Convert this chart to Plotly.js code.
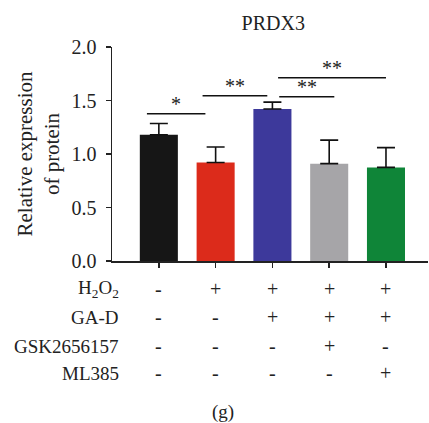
<!DOCTYPE html>
<html>
<head>
<meta charset="utf-8">
<script src="https://cdn.plot.ly/plotly-3.0.1.min.js"></script>
<style>html,body{margin:0;padding:0;background:#fff;}#chart{width:429px;height:423px;}</style>
</head>
<body>
<div id="chart"></div>
<script>
// Data
var groups = [0, 1, 2, 3, 4];
var means = [1.18, 0.92, 1.42, 0.91, 0.875];
var errors = [0.105, 0.145, 0.065, 0.22, 0.185];
var colors = ['#161616', '#dc2b1b', '#3d399b', '#a6a5a8', '#0f8538'];
var rowLabels = ['H<sub>2</sub>O<sub>2</sub>', 'GA-D', 'GSK2656157', 'ML385'];
var rowSigns = [
  ['-', '+', '+', '+', '+'],
  ['-', '-', '+', '+', '+'],
  ['-', '-', '-', '+', '-'],
  ['-', '-', '-', '-', '+']
];
// significance brackets: [from, to, level, label]
var sigFrom = [-0.21, 0.77, 2.12, 2.1];
var sigTo = [0.82, 1.91, 3.09, 4.0];
var sigLevel = [1.376, 1.544, 1.535, 1.712];
var sigLabel = ['*', '**', '**', '**'];

var FONT = 'Liberation Serif';
var rowPix = [28, 56, 85, 112];

var trace = {
  type: 'bar',
  x: groups,
  y: means,
  width: 0.67,
  marker: {color: colors, line: {width: 0}},
  error_y: {type: 'data', array: errors, symmetric: false, arrayminus: [0,0,0,0,0], color: '#111', thickness: 1.6, width: 9},
  hoverinfo: 'none'
};

var shapes = [];
var annotations = [];
for (var i = 0; i < sigFrom.length; i++) {
  shapes.push({type: 'line', xref: 'x', yref: 'y', x0: sigFrom[i], x1: sigTo[i], y0: sigLevel[i], y1: sigLevel[i], line: {color: '#111', width: 1.5}});
  annotations.push({xref: 'x', yref: 'y', x: (sigFrom[i] + sigTo[i]) / 2, y: sigLevel[i], yanchor: 'bottom', yshift: -3, text: sigLabel[i], showarrow: false, font: {family: FONT, size: 20, color: '#222'}});
}
for (var r = 0; r < rowLabels.length; r++) {
  annotations.push({xref: 'paper', yref: 'paper', x: 0, y: 0, xanchor: 'right', yanchor: 'middle', xshift: 9, yshift: -rowPix[r], text: rowLabels[r], showarrow: false, font: {family: FONT, size: 19, color: '#222'}});
  for (var c = 0; c < groups.length; c++) {
    annotations.push({xref: 'x', yref: 'paper', x: groups[c], y: 0, xanchor: 'center', yanchor: 'middle', yshift: -rowPix[r], text: rowSigns[r][c], showarrow: false, font: {family: FONT, size: 20, color: '#222'}});
  }
}
annotations.push({xref: 'paper', yref: 'paper', x: 0.35, y: 0, xanchor: 'center', yanchor: 'middle', yshift: -151, text: '(g)', showarrow: false, font: {family: FONT, size: 19, color: '#222'}});

var layout = {
  width: 429, height: 423,
  margin: {l: 112, r: 1, t: 47, b: 162},
  paper_bgcolor: '#fff', plot_bgcolor: '#fff',
  showlegend: false,
  title: {text: 'PRDX3', font: {family: FONT, size: 20, color: '#222'}, x: 0.637, xanchor: 'center', y: 0.945, yanchor: 'middle'},
  xaxis: {range: [-0.825, 4.74], tickvals: groups, showticklabels: false, ticks: 'outside', ticklen: 5, tickwidth: 1.5, tickcolor: '#222', showline: true, linecolor: '#222', linewidth: 1.5, showgrid: false, zeroline: false, fixedrange: true},
  yaxis: {range: [0, 2], tickvals: [0, 0.5, 1, 1.5, 2], ticktext: ['0.0', '0.5', '1.0', '1.5', '2.0'], ticks: 'outside', ticklen: 5, tickwidth: 1.5, tickcolor: '#222', ticklabelstandoff: 5, showline: true, linecolor: '#222', linewidth: 1.5, showgrid: false, zeroline: false, tickfont: {family: FONT, size: 20, color: '#222'},
    title: {text: 'Relative expression<br>of protein', font: {family: FONT, size: 21, color: '#222'}, standoff: 6}},
  shapes: shapes,
  annotations: annotations
};

Plotly.newPlot('chart', [trace], layout, {displayModeBar: false, staticPlot: true});
</script>
</body>
</html>
